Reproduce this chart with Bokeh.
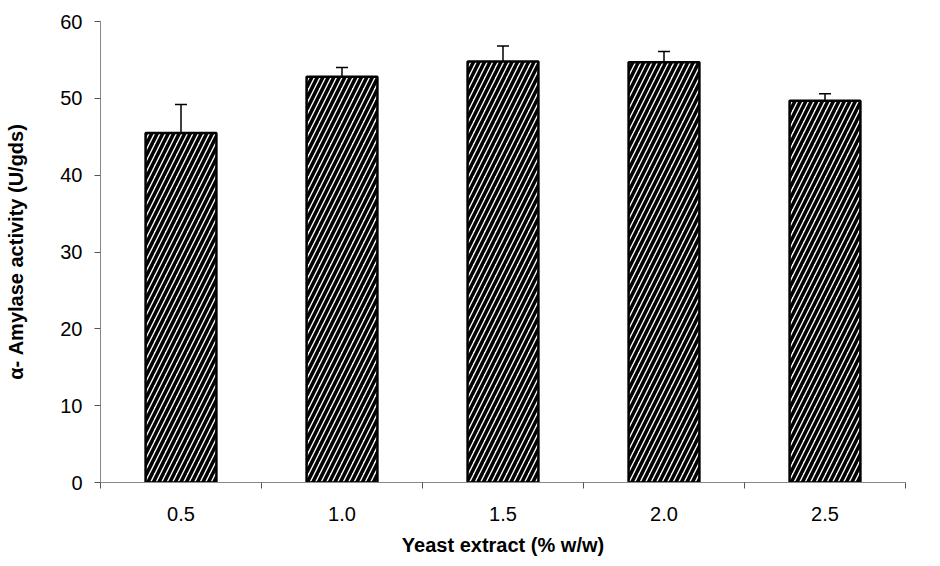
from bokeh.plotting import figure
from bokeh.models import ColumnDataSource, Whisker, FixedTicker, Range1d, TeeHead
from bokeh.embed import file_html
from bokeh.resources import INLINE

categories = ["0.5", "1.0", "1.5", "2.0", "2.5"]
activity = [45.5, 52.8, 54.8, 54.7, 49.7]
error = [3.7, 1.2, 2.0, 1.4, 0.9]
y_ticks = [0, 10, 20, 30, 40, 50, 60]

xpos = [i + 1 for i in range(len(categories))]
src = ColumnDataSource(dict(
    x=xpos, top=activity,
    upper=[a + e for a, e in zip(activity, error)],
    lower=[a - e for a, e in zip(activity, error)],
))

p = figure(width=920, height=558, output_backend="svg", toolbar_location=None,
           x_range=Range1d(0.5, len(categories) + 0.5), y_range=Range1d(0, 60),
           min_border_left=100, min_border_right=15, min_border_top=21,
           min_border_bottom=72)
p.outline_line_color = None
p.xgrid.visible = False
p.ygrid.visible = False

p.vbar(x="x", top="top", width=0.44, source=src, fill_color="white",
       line_color="black", line_width=2.5, hatch_pattern="/",
       hatch_color="black", hatch_scale=11, hatch_weight=3.6)

w = Whisker(base="x", upper="upper", lower="lower", source=src,
            line_color="black", line_width=1.5,
            upper_head=TeeHead(size=12, line_color="black", line_width=1.5),
            lower_head=None)
p.add_layout(w)

font = "Liberation Sans"
ax = p.xaxis[0]
ax.ticker = FixedTicker(ticks=xpos, minor_ticks=[i + 0.5 for i in range(len(categories) + 1)])
ax.major_label_overrides = {x: c for x, c in zip(xpos, categories)}
ax.major_tick_out = 0
ax.major_tick_in = 0
ax.minor_tick_out = 6
ax.minor_tick_in = 0
ax.axis_line_color = "#888888"
ax.minor_tick_line_color = "#555555"
ax.major_label_text_font = font
ax.major_label_text_font_size = "20px"
ax.major_label_text_color = "black"
ax.major_label_standoff = 18
ax.axis_label = "Yeast extract (% w/w)"
ax.axis_label_text_font = font
ax.axis_label_text_font_size = "20px"
ax.axis_label_text_font_style = "bold"
ax.axis_label_text_color = "black"
ax.axis_label_standoff = 10

ay = p.yaxis[0]
ay.ticker = FixedTicker(ticks=y_ticks, minor_ticks=[])
ay.major_tick_out = 6
ay.major_tick_in = 0
ay.axis_line_color = "#888888"
ay.major_tick_line_color = "#555555"
ay.major_label_text_font = font
ay.major_label_text_font_size = "20px"
ay.major_label_text_color = "black"
ay.major_label_standoff = 12
ay.axis_label = "α- Amylase activity (U/gds)"
ay.axis_label_text_font = font
ay.axis_label_text_font_size = "20px"
ay.axis_label_text_font_style = "bold"
ay.axis_label_text_color = "black"
ay.axis_label_standoff = 30

open("out.html", "w").write(file_html(p, INLINE))
